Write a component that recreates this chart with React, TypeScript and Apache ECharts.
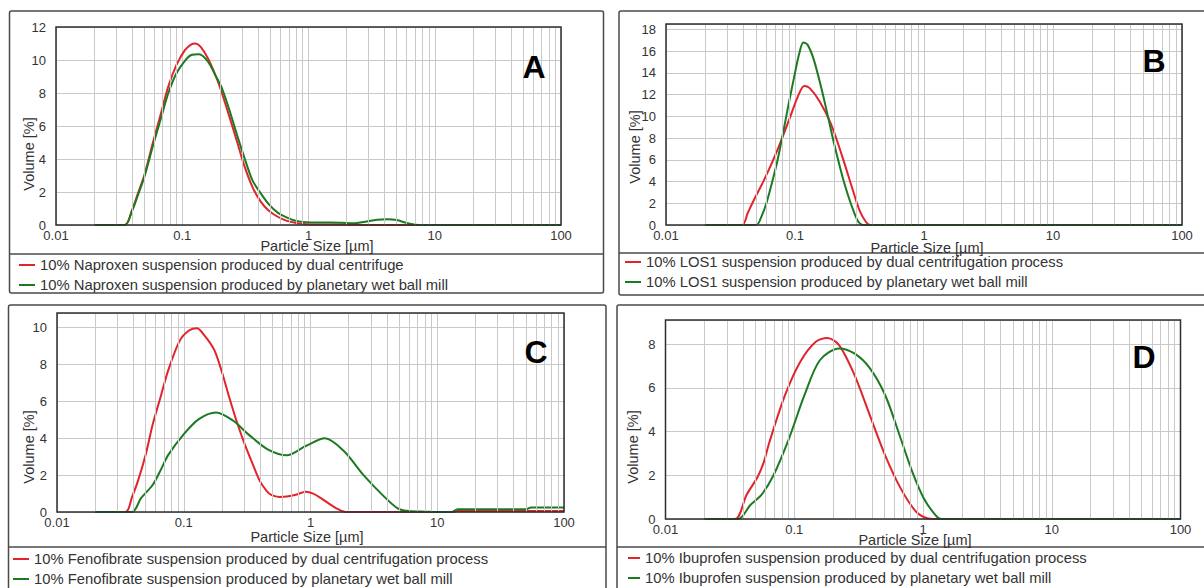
import React, { useEffect, useRef } from "react";
import * as echarts from "echarts";

// ---------- data ----------
const MINOR_MANTISSAS = [2, 3, 4, 5, 6, 7, 8, 9];
const DECADES = [0.01, 0.1, 1, 10];
const Y_MAX = [12, 18.5, 10.8, 9.1];
const PANEL_LETTERS = ["A", "B", "C", "D"];
const X_AXIS_NAME = "Particle Size [µm]";
const Y_AXIS_NAME = "Volume [%]";

const NAMES_A = [
  "10% Naproxen suspension produced by dual centrifuge",
  "10% Naproxen suspension produced by planetary wet ball mill",
];
const NAMES_B = [
  "10% LOS1 suspension produced by dual centrifugation process",
  "10% LOS1 suspension produced by planetary wet ball mill",
];
const NAMES_C = [
  "10% Fenofibrate suspension produced by dual centrifugation process",
  "10% Fenofibrate suspension produced by planetary wet ball mill",
];
const NAMES_D = [
  "10% Ibuprofen suspension produced by dual centrifugation process",
  "10% Ibuprofen suspension produced by planetary wet ball mill",
];

// Panel A – Naproxen
const A_RED_X = [0.02, 0.035, 0.04, 0.0445, 0.05, 0.0586, 0.068, 0.0776, 0.09, 0.105, 0.118, 0.127, 0.14, 0.16, 0.185, 0.206, 0.24, 0.273, 0.31, 0.36, 0.42, 0.48, 0.57, 0.676, 0.8, 0.955, 1.3, 2.0, 3.0, 100];
const A_RED_Y = [0, 0, 0.9, 1.9, 3.0, 5.0, 6.8, 8.4, 9.7, 10.6, 10.95, 11.0, 10.8, 10.1, 9.0, 8.0, 6.4, 5.0, 3.6, 2.3, 1.4, 0.9, 0.5, 0.25, 0.12, 0.05, 0.03, 0.02, 0, 0];
const A_GREEN_X = [0.02, 0.035, 0.04, 0.0445, 0.05, 0.0586, 0.068, 0.0776, 0.09, 0.105, 0.118, 0.136, 0.16, 0.185, 0.206, 0.24, 0.273, 0.31, 0.36, 0.42, 0.48, 0.57, 0.676, 0.8, 0.955, 1.3, 1.8, 2.3, 2.8, 3.5, 4.2, 5.0, 6.0, 7.0, 8.0, 100];
const A_GREEN_Y = [0, 0, 0.85, 1.8, 2.9, 4.8, 6.5, 8.0, 9.2, 9.95, 10.3, 10.35, 9.9, 9.0, 8.3, 6.8, 5.4, 4.1, 2.7, 1.9, 1.3, 0.75, 0.45, 0.25, 0.17, 0.15, 0.14, 0.1, 0.2, 0.32, 0.35, 0.3, 0.12, 0.02, 0, 0];

// Panel B – LOS1
const B_RED_X = [0.02, 0.0388, 0.043, 0.048, 0.059, 0.0727, 0.0895, 0.105, 0.118, 0.13, 0.155, 0.19, 0.234, 0.286, 0.32, 0.354, 0.38, 100];
const B_RED_Y = [0, 0, 1.1, 2.3, 4.4, 6.85, 9.6, 11.8, 12.8, 12.6, 11.4, 9.3, 6.2, 2.9, 1.2, 0.3, 0, 0];
const B_GREEN_X = [0.02, 0.05, 0.055, 0.06, 0.066, 0.0727, 0.08, 0.0895, 0.1, 0.108, 0.116, 0.125, 0.14, 0.16, 0.18, 0.2, 0.234, 0.26, 0.286, 0.31, 0.335, 100];
const B_GREEN_Y = [0, 0, 0.8, 2.0, 3.8, 5.8, 8.2, 11.2, 14.0, 15.8, 16.8, 16.6, 15.2, 12.6, 10.0, 7.6, 4.4, 2.6, 1.2, 0.3, 0, 0];

// Panel C – Fenofibrate
const C_RED_X = [0.02, 0.0347, 0.039, 0.0434, 0.05, 0.057, 0.066, 0.0755, 0.093, 0.11, 0.127, 0.145, 0.174, 0.2, 0.229, 0.265, 0.303, 0.35, 0.4, 0.45, 0.49, 0.57, 0.65, 0.78, 0.916, 1.05, 1.21, 1.4, 1.6, 1.9, 13, 14.5, 100];
const C_RED_Y = [0, 0, 0.8, 1.66, 3.1, 4.77, 6.3, 7.7, 9.3, 9.85, 9.97, 9.6, 8.8, 7.6, 6.2, 4.8, 3.67, 2.6, 1.66, 1.15, 0.93, 0.82, 0.84, 0.95, 1.1, 1.0, 0.75, 0.45, 0.2, 0, 0, 0.06, 0.06];
const C_GREEN_X = [0.02, 0.039, 0.046, 0.057, 0.066, 0.0755, 0.0995, 0.1315, 0.18, 0.246, 0.325, 0.459, 0.65, 0.916, 1.3, 1.84, 2.6, 3.69, 4.87, 6.0, 8.0, 10, 13, 14.5, 50, 55, 100];
const C_GREEN_Y = [0, 0, 0.75, 1.48, 2.3, 3.1, 4.2, 5.04, 5.4, 4.95, 4.2, 3.4, 3.08, 3.58, 4.0, 3.3, 2.03, 0.93, 0.2, 0.05, 0.02, 0, 0, 0.15, 0.15, 0.25, 0.25];

// Panel D – Ibuprofen
const D_RED_X = [0.02, 0.0346, 0.0426, 0.052, 0.058, 0.064, 0.0848, 0.1117, 0.147, 0.181, 0.223, 0.293, 0.386, 0.509, 0.671, 0.885, 1.09, 1.2, 100];
const D_RED_Y = [0, 0, 1.1, 1.93, 2.6, 3.5, 5.66, 7.2, 8.1, 8.28, 7.95, 6.6, 4.75, 2.9, 1.4, 0.33, 0.02, 0, 0];
const D_GREEN_X = [0.02, 0.0366, 0.0456, 0.056, 0.069, 0.091, 0.12, 0.158, 0.223, 0.293, 0.386, 0.509, 0.671, 0.826, 1.016, 1.25, 1.39, 100];
const D_GREEN_Y = [0, 0, 0.64, 1.13, 2.0, 3.68, 5.66, 7.26, 7.8, 7.57, 6.9, 5.66, 3.68, 2.16, 0.94, 0.18, 0, 0];

// ---------- layout / style ----------
const FONT = "'Liberation Sans', Arial, sans-serif";
const RED = "#e3232b";
const GREEN = "#1c7a22";
const GRID_COLOR = "#c9c9c9";
const TEXT_COLOR = "#333";

const LAYOUT = [
  { grid: { left: 56, top: 27, width: 505, height: 198 }, box: { x: 9.5, y: 11, w: 594, h: 282 }, sep: 254, letter: [534, 67], yName: [29, 154], xName: [317, 246], legend: { left: 19, top: 257, iw: 16 } },
  { grid: { left: 666, top: 24, width: 516, height: 201 }, box: { x: 619, y: 11, w: 600, h: 284 }, sep: 253, letter: [1154, 61], yName: [635, 147], xName: [927, 248], legend: { left: 625, top: 254, iw: 16 } },
  { grid: { left: 57, top: 313, width: 507, height: 199 }, box: { x: 8.5, y: 305, w: 597.5, h: 300 }, sep: 547, letter: [536, 352], yName: [29, 447], xName: [307, 537], legend: { left: 13, top: 551, iw: 16 } },
  { grid: { left: 665.5, top: 320, width: 515, height: 199 }, box: { x: 617, y: 305, w: 600, h: 300 }, sep: 547, letter: [1144, 357], yName: [633, 447], xName: [915, 540], legend: { left: 628, top: 550, iw: 12 } },
];

const zip = (xs: number[], ys: number[]) => xs.map((x, i) => [x, ys[i]]);

const PANEL_SERIES = [
  { names: NAMES_A, red: zip(A_RED_X, A_RED_Y), green: zip(A_GREEN_X, A_GREEN_Y) },
  { names: NAMES_B, red: zip(B_RED_X, B_RED_Y), green: zip(B_GREEN_X, B_GREEN_Y) },
  { names: NAMES_C, red: zip(C_RED_X, C_RED_Y), green: zip(C_GREEN_X, C_GREEN_Y) },
  { names: NAMES_D, red: zip(D_RED_X, D_RED_Y), green: zip(D_GREEN_X, D_GREEN_Y) },
];

const MINOR_X = DECADES.flatMap((d) => MINOR_MANTISSAS.map((m) => Number((d * m).toPrecision(2))));

function buildOption() {
  const grid: any[] = [];
  const xAxis: any[] = [];
  const yAxis: any[] = [];
  const series: any[] = [];
  const legend: any[] = [];
  const graphic: any[] = [];

  LAYOUT.forEach((L, i) => {
    grid.push({ ...L.grid, containLabel: false });
    xAxis.push({
      type: "log",
      logBase: 10,
      gridIndex: i,
      min: 0.01,
      max: 100,
      axisLine: { show: false },
      axisTick: { show: false },
      splitLine: { show: true, lineStyle: { color: GRID_COLOR, width: 1 } },
      axisLabel: {
        margin: 4,
        fontSize: 13,
        color: TEXT_COLOR,
        fontFamily: FONT,
        formatter: (v: number) => String(Number(Number(v).toPrecision(1))),
      },
    });
    yAxis.push({
      type: "value",
      gridIndex: i,
      min: 0,
      max: Y_MAX[i],
      interval: 2,
      axisLine: { show: false },
      axisTick: { show: false },
      splitLine: { show: true, lineStyle: { color: GRID_COLOR, width: 1 } },
      axisLabel: {
        margin: 10,
        fontSize: 13,
        color: TEXT_COLOR,
        fontFamily: FONT,
        formatter: (v: number) => {
          const r = Math.round(v);
          return Math.abs(v - r) < 1e-6 && r % 2 === 0 ? String(r) : "";
        },
      },
    });

    // minor vertical grid lines
    series.push({
      type: "line",
      xAxisIndex: i,
      yAxisIndex: i,
      data: [[1, 0]],
      symbol: "none",
      lineStyle: { opacity: 0 },
      silent: true,
      z: 1,
      markLine: {
        silent: true,
        symbol: ["none", "none"],
        label: { show: false },
        emphasis: { disabled: true },
        lineStyle: { color: GRID_COLOR, width: 1, type: "solid" },
        data: MINOR_X.map((v) => ({ xAxis: v })),
      },
    });

    const P = PANEL_SERIES[i];
    [
      { name: P.names[0], data: P.red, color: RED },
      { name: P.names[1], data: P.green, color: GREEN },
    ].forEach((s) => {
      series.push({
        type: "line",
        name: s.name,
        xAxisIndex: i,
        yAxisIndex: i,
        data: s.data,
        smooth: 0.3,
        symbol: "none",
        showSymbol: false,
        lineStyle: { color: s.color, width: 2 },
        itemStyle: { color: s.color },
        z: 3,
      });
    });

    legend.push({
      data: P.names,
      orient: "vertical",
      left: L.legend.left,
      top: L.legend.top,
      icon: "rect",
      itemWidth: L.legend.iw,
      itemHeight: 2,
      itemGap: 4,
      padding: 0,
      selectedMode: false,
      textStyle: { fontSize: 14.8, color: TEXT_COLOR, fontFamily: FONT, lineHeight: 16 },
    });

    // panel outer box
    graphic.push({
      type: "rect",
      shape: { x: L.box.x, y: L.box.y, width: L.box.w, height: L.box.h, r: 2 },
      style: { fill: "none", stroke: "#4a4a4a", lineWidth: 1.5 },
      silent: true,
      z: 100,
    });
    // legend separator
    graphic.push({
      type: "line",
      shape: { x1: L.box.x, y1: L.sep, x2: L.box.x + L.box.w, y2: L.sep },
      style: { stroke: "#4a4a4a", lineWidth: 1.5 },
      silent: true,
      z: 100,
    });
    // plot border
    graphic.push({
      type: "rect",
      shape: { x: L.grid.left, y: L.grid.top, width: L.grid.width, height: L.grid.height },
      style: { fill: "none", stroke: "#2e2e2e", lineWidth: 1.5 },
      silent: true,
      z: 100,
    });
    // panel letter
    graphic.push({
      type: "text",
      x: L.letter[0],
      y: L.letter[1],
      style: {
        text: PANEL_LETTERS[i],
        fontSize: 32,
        fontWeight: "bold",
        fontFamily: FONT,
        fill: "#000",
        align: "center",
        verticalAlign: "middle",
      },
      silent: true,
      z: 100,
    });
    // y axis name
    graphic.push({
      type: "text",
      x: L.yName[0],
      y: L.yName[1],
      rotation: Math.PI / 2,
      style: {
        text: Y_AXIS_NAME,
        fontSize: 14.5,
        fontFamily: FONT,
        fill: TEXT_COLOR,
        align: "center",
        verticalAlign: "middle",
      },
      silent: true,
      z: 100,
    });
    // x axis name
    graphic.push({
      type: "text",
      x: L.xName[0],
      y: L.xName[1],
      style: {
        text: X_AXIS_NAME,
        fontSize: 14.5,
        fontFamily: FONT,
        fill: TEXT_COLOR,
        align: "center",
        verticalAlign: "middle",
      },
      silent: true,
      z: 100,
    });
  });

  return {
    animation: false,
    backgroundColor: "#fff",
    grid,
    xAxis,
    yAxis,
    series,
    legend,
    graphic,
  };
}

export default function App() {
  const ref = useRef<HTMLDivElement>(null);
  useEffect(() => {
    document.body.style.margin = "0";
    if (!ref.current) return;
    const chart = echarts.init(ref.current, undefined, { renderer: "svg" });
    chart.setOption(buildOption() as any);
    return () => chart.dispose();
  }, []);
  return (
    <div
      ref={ref}
      style={{ position: "absolute", left: 0, top: 0, width: 1204, height: 588, background: "#fff" }}
    />
  );
}
